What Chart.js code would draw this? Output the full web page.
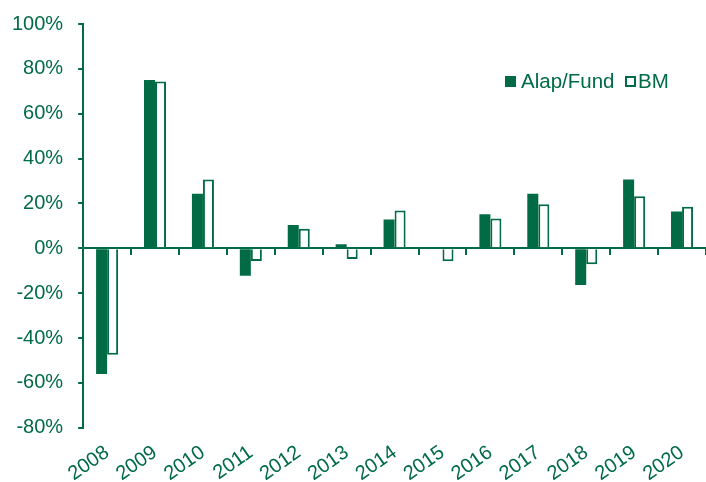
<!DOCTYPE html>
<html>
<head>
<meta charset="utf-8">
<script src="https://cdn.jsdelivr.net/npm/chart.js@4/dist/chart.umd.min.js"></script>
<style>
  html, body { margin: 0; padding: 0; background: #fff; }
  .wrap { position: relative; width: 706px; height: 482px; }
  canvas { display: block; }
  .legend { position: absolute; left: 0; top: 0; font-family: "Liberation Sans", Arial, sans-serif; font-size: 20px; line-height: 20px; color: #006B45; }
  .legend span { position: absolute; white-space: nowrap; }
  .box { width: 11px; height: 11px; box-sizing: border-box; }
</style>
</head>
<body>
<div class="wrap">
  <canvas id="myChart" width="706" height="482"></canvas>
  <div class="legend">
    <span class="box" style="left:505px;top:76px;background:#006B45"></span>
    <span style="left:521px;top:71px;font-size:20.5px">Alap/Fund</span>
    <span class="box" style="left:625px;top:76px;border:2px solid #006B45;background:#fff"></span>
    <span style="left:638px;top:71px;font-size:20.5px">BM</span>
  </div>
</div>
<script>
const green = '#006B45';

const years = ['2008', '2009', '2010', '2011', '2012', '2013', '2014', '2015', '2016', '2017', '2018', '2019', '2020'];
const fundReturns = [-56, 75, 24.3, -12.2, 10.4, 1.8, 12.9, -0.4, 15.2, 24.3, -16.3, 30.7, 16.4];
const bmReturns = [-47.4, 74.4, 30.7, -5.6, 8.7, -4.7, 16.9, -5.8, 13.3, 19.7, -7.1, 23.2, 18.5];
const yMin = -80, yMax = 100, yStep = 20;

const fontFamily = '"Liberation Sans", Arial, sans-serif';

const ctx = document.getElementById('myChart').getContext('2d');
new Chart(ctx, {
    type: 'bar',
    data: {
        labels: years,
        datasets: [{
            label: 'Alap/Fund',
            data: fundReturns,
            backgroundColor: green,
            borderWidth: 0,
            categoryPercentage: 0.46,
            barPercentage: 1.0
        }, {
            label: 'BM',
            data: bmReturns,
            backgroundColor: '#ffffff',
            borderColor: green,
            borderWidth: 2,
            categoryPercentage: 0.46,
            barPercentage: 1.0
        }]
    },
    options: {
        responsive: false,
        animation: false,
        layout: { padding: { left: -3, top: 24, right: -2, bottom: -17 } },
        plugins: {
            legend: { display: false },
            tooltip: { enabled: false }
        },
        scales: {
            x: {
                position: 'bottom',
                grid: { display: false, drawTicks: false },
                border: { display: false },
                afterFit: scale => { scale.paddingLeft = 0; scale.paddingRight = 0; },
                ticks: {
                    color: green,
                    font: { family: fontFamily, size: 20 },
                    minRotation: 35,
                    maxRotation: 35,
                    padding: 13,
                    autoSkip: false
                }
            },
            x2: {
                axis: 'x',
                position: { y: 0 },
                z: 1,
                grid: { display: true, drawOnChartArea: false, drawTicks: true, tickLength: 6, color: green, lineWidth: 2, offset: true },
                border: { display: true, color: green, width: 2 },
                ticks: { display: false }
            },
            y: {
                min: yMin,
                max: yMax,
                z: 1,
                grid: { display: true, drawOnChartArea: false, drawTicks: true, tickLength: 5, color: green, lineWidth: 2 },
                border: { display: true, color: green, width: 2 },
                afterFit: scale => { scale.paddingTop = 0; scale.paddingBottom = 0; },
                ticks: {
                    stepSize: yStep,
                    color: green,
                    padding: 15,
                    font: { family: fontFamily, size: 20 },
                    callback: v => v + '%'
                }
            }
        }
    }
});
</script>
</body>
</html>
